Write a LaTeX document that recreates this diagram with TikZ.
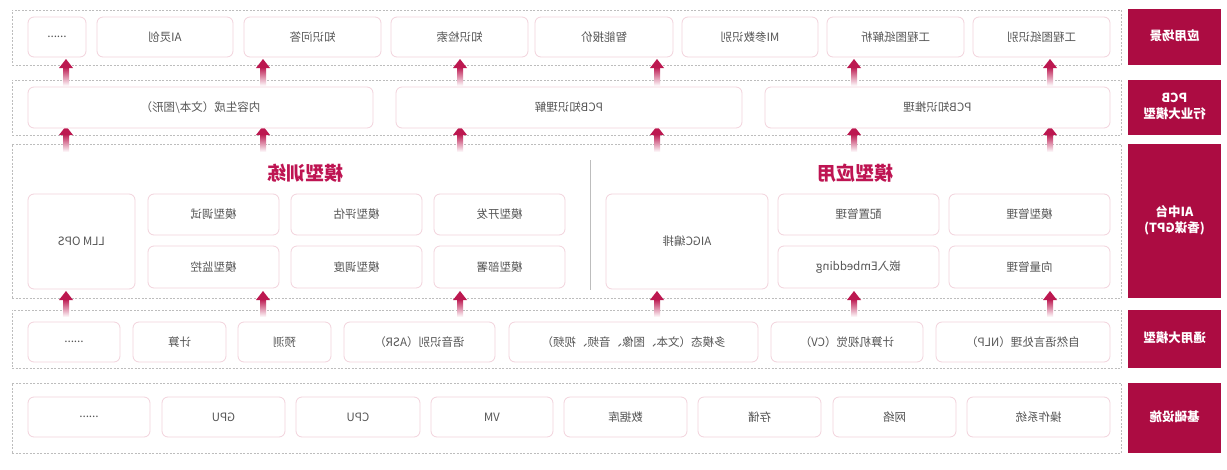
\documentclass[tikz,border=0pt]{standalone}
\usepackage{graphicx}
\usepackage{fontspec}
\setmainfont{Noto Sans CJK SC}
\usetikzlibrary{positioning}
\definecolor{crim}{HTML}{AC0C42}
\definecolor{arw}{HTML}{BC1850}
\definecolor{ttl}{HTML}{BE1452}
\definecolor{bxline}{HTML}{F2D3DC}
\definecolor{txt}{HTML}{555555}
\definecolor{dashgray}{HTML}{BDBDBD}
\tikzset{
  bx/.style={draw=bxline, line width=0.8pt, rounded corners=6pt, fill=white, inner sep=0pt, outer sep=0pt, text=txt, font=\fontsize{11.5}{13}\selectfont},
  lay/.style={draw=dashgray, line width=0.7pt, dash pattern=on 2pt off 1.5pt, inner sep=0pt, outer sep=0pt},
  lbl/.style={fill=crim, draw=none, inner sep=0pt, outer sep=0pt, text=white, align=center, font=\fontsize{12.5}{16}\selectfont\bfseries},
  ttlstyle/.style={text=ttl, font=\fontsize{19}{22}\selectfont\bfseries, inner sep=0pt}
}
\newcommand\BX[6]{\node[bx, minimum width={#4pt-#2pt}, minimum height={#5pt-#3pt}] (#1) at ({(#2+#4)/2},{(#3+#5)/2}) {\reflectbox{#6}};}
\newcommand\LAY[5]{\node[lay, minimum width={#4pt-#2pt}, minimum height={#5pt-#3pt}] (#1) at ({(#2+#4)/2},{(#3+#5)/2}) {};}
\newcommand\LBL[6]{\node[lbl, minimum width={#4pt-#2pt}, minimum height={#5pt-#3pt}] (#1) at ({(#2+#4)/2},{(#3+#5)/2}) {\reflectbox{\begin{tabular}{@{}c@{}}#6\end{tabular}}};}
\newcommand\ARW[3]{%
  \shade[top color=arw, bottom color=white, draw=none] ({#1-3},{#2+8}) rectangle ({#1+3},#3);
  \fill[arw] ({#1-7},{#2+9}) -- (#1,#2) -- ({#1+7},{#2+9}) -- cycle;}
\begin{document}
\begin{tikzpicture}[x=1pt,y=-1pt]
\useasboundingbox[fill=white] (0,0) rectangle (1227,469);
% layers
\LAY{L1}{12}{10}{1121}{65}
\LAY{L2}{12}{80}{1121}{135}
\LAY{L3}{12}{144}{1121}{298}
\LAY{L4}{12}{310}{1121}{368}
\LAY{L5}{12}{383}{1121}{453}
% labels
\LBL{T1}{1128}{9}{1221}{65}{应用场景}
\LBL{T2}{1128}{80}{1221}{135}{PCB\\行业大模型}
\LBL{T3}{1128}{144}{1221}{298}{AI中台\\(香谋GPT)}
\LBL{T4}{1128}{310}{1221}{368}{通用大模型}
\LBL{T5}{1128}{383}{1221}{453}{基础设施}
% arrows
\foreach \ax in {66,263,460,657,854,1050}{
  \ARW{\ax}{59}{86}
  \ARW{\ax}{126}{152}
  \ARW{\ax}{291}{317}
}
% layer 1
\BX{a1}{28}{17}{86}{57}{......}
\BX{a2}{97}{17}{233}{57}{AI灵创}
\BX{a3}{244}{17}{381}{57}{知识问答}
\BX{a4}{391}{17}{528}{57}{知识检索}
\BX{a5}{535}{17}{673}{57}{智能报价}
\BX{a6}{682}{17}{818}{57}{MI参数识别}
\BX{a7}{827}{17}{964}{57}{工程图纸解析}
\BX{a8}{973}{17}{1110}{57}{工程图纸识别}
% layer 2
\BX{b1}{28}{87}{373}{128}{内容生成（文本/图形）}
\BX{b2}{396}{87}{742}{128}{PCB知识理解}
\BX{b3}{765}{87}{1110}{128}{PCB知识推理}
% layer 3
\node[ttlstyle] (tt1) at (305,173) {\reflectbox{模型训练}};
\node[ttlstyle] (tt2) at (855,173) {\reflectbox{模型应用}};
\coordinate (s1) at (590,160);
\coordinate (s2) at (590,290);
\draw[dashgray, line width=0.7pt] (s1) -- (s2);
\BX{c1}{28}{194}{135}{289}{LLM OPS}
\BX{c2}{148}{194}{279}{235}{模型调试}
\BX{c3}{148}{246}{279}{288}{模型监控}
\BX{c4}{291}{194}{422}{235}{模型评估}
\BX{c5}{291}{246}{422}{288}{模型调度}
\BX{c6}{434}{194}{565}{235}{模型开发}
\BX{c7}{434}{246}{565}{288}{模型部署}
\BX{c8}{606}{194}{768}{289}{AIGC编排}
\BX{c9}{778}{194}{939}{235}{配置管理}
\BX{c10}{778}{246}{939}{288}{嵌入Embedding}
\BX{c11}{949}{194}{1110}{235}{模型管理}
\BX{c12}{949}{246}{1110}{288}{向量管理}
% layer 4
\BX{d1}{28}{322}{120}{362}{......}
\BX{d2}{133}{322}{226}{362}{计算}
\BX{d3}{238}{322}{331}{362}{预测}
\BX{d4}{344}{322}{495}{362}{语音识别（ASR）}
\BX{d5}{509}{322}{758}{362}{多模态（文本、图像、音频、视频）}
\BX{d6}{771}{322}{923}{362}{计算机视觉（CV）}
\BX{d7}{936}{322}{1110}{362}{自然语言处理（NLP）}
% layer 5
\BX{e1}{28}{397}{150}{437}{......}
\BX{e2}{162}{397}{285}{437}{GPU}
\BX{e3}{296}{397}{420}{437}{CPU}
\BX{e4}{431}{397}{553}{437}{VM}
\BX{e5}{564}{397}{687}{437}{数据库}
\BX{e6}{698}{397}{821}{437}{存储}
\BX{e7}{833}{397}{956}{437}{网络}
\BX{e8}{967}{397}{1110}{437}{操作系统}
\end{tikzpicture}
\end{document}
